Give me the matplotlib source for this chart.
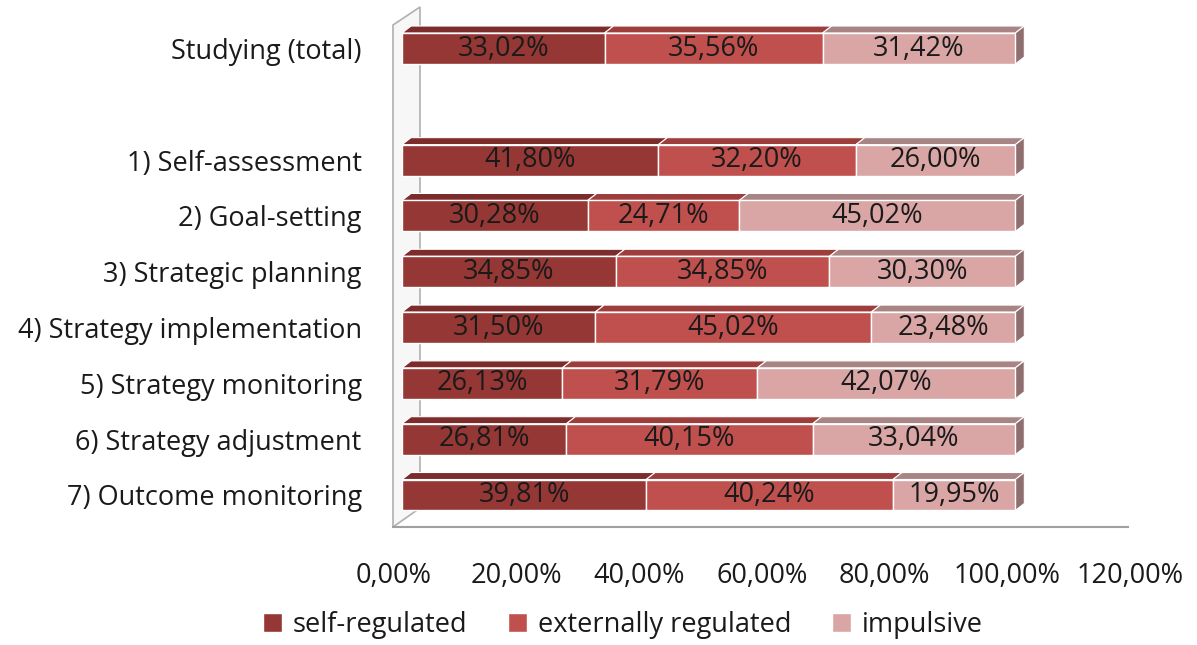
import numpy as np
import matplotlib.pyplot as plt
from matplotlib.patches import Polygon, Rectangle
from matplotlib.lines import Line2D
import matplotlib.transforms as mtransforms

plt.rcParams['font.family'] = ['Open Sans', 'DejaVu Sans']

categories = ["7) Outcome monitoring", "6) Strategy adjustment", "5) Strategy monitoring",
              "4) Strategy implementation", "3) Strategic planning", "2) Goal-setting",
              "1) Self-assessment", "", "Studying (total)"]
self_reg = [39.81, 26.81, 26.13, 31.50, 34.85, 30.28, 41.80, None, 33.02]
ext_reg = [40.24, 40.15, 31.79, 45.02, 34.85, 24.71, 32.20, None, 35.56]
impulsive = [19.95, 33.04, 42.07, 23.48, 30.30, 45.02, 26.00, None, 31.42]
series_names = ["self-regulated", "externally regulated", "impulsive"]
xticks = [0, 20, 40, 60, 80, 100, 120]

front = ["#953735", "#C0504D", "#D9A6A5"]
top = ["#7B2C2B", "#9E3E3C", "#A88584"]
side = "#8E6E6E"

W, H = 1197, 645
fig = plt.figure(figsize=(W / 100, H / 100), dpi=100)

def fx(x):
    return x / W

def fy(y):
    return 1 - y / H

# axes: 0% at x=402, 120% at x=1138; y from px 10 to 520
ax = fig.add_axes([fx(402), fy(520), (1138 - 402) / W, 510 / H])
ax.set_xlim(0, 120)
ax.set_ylim(-0.448, 8.69)
for s in ax.spines.values():
    s.set_visible(False)
ax.patch.set_visible(False)

# left wall and floor (3D look)
wall = Polygon([(fx(393), fy(25)), (fx(420), fy(7)), (fx(420), fy(508)), (fx(393), fy(527))],
               closed=True, transform=fig.transFigure, facecolor="#F7F7F7",
               edgecolor="#B0B0B0", lw=1.2, zorder=0)
fig.add_artist(wall)
fig.add_artist(Line2D([fx(393), fx(1128)], [fy(527), fy(527)], transform=fig.transFigure,
                      color="#A0A0A0", lw=1.5))

bh = 0.555
dx = 9 / ((1138 - 402) / 120)
dy = 7 / 55.8

for i, cat in enumerate(categories):
    if self_reg[i] is None:
        continue
    vals = [self_reg[i], ext_reg[i], impulsive[i]]
    left = 0
    for k, v in enumerate(vals):
        y0, y1 = i - bh / 2, i + bh / 2
        ax.add_patch(Rectangle((left, y0), v, bh, facecolor=front[k],
                               edgecolor="white", lw=1.0, zorder=3))
        ax.add_patch(Polygon([(left, y1), (left + v, y1), (left + v + dx, y1 + dy),
                              (left + dx, y1 + dy)], closed=True, facecolor=top[k],
                             edgecolor="white", lw=0.8, zorder=2))
        ax.text(left + v / 2, i, f"{v:.2f}%".replace(".", ","), ha="center", va="center",
                fontsize=19.5, color="#1A1A1A", zorder=5)
        left += v
    ax.add_patch(Polygon([(left, y0), (left, y1), (left + dx, y1 + dy), (left + dx, y0 + dy)],
                         closed=True, facecolor=side, edgecolor="white", lw=0.8, zorder=2))

ax.set_yticks(range(len(categories)))
ax.set_yticklabels(categories, fontsize=19.5, color="#1A1A1A")
ax.tick_params(axis="y", length=0, pad=29)

ax.set_xticks(xticks)
ax.set_xticklabels([f"{t:.2f}%".replace(".", ",") for t in xticks], fontsize=19.5, color="#1A1A1A")
ax.tick_params(axis="x", length=0, pad=30)
shift = mtransforms.ScaledTranslation(-8 / 100, 0, fig.dpi_scale_trans)
for lab in ax.get_xticklabels():
    lab.set_transform(lab.get_transform() + shift)

handles = [Rectangle((0, 0), 1, 1, facecolor=c, edgecolor="white") for c in front]
fig.legend(handles, series_names, loc="center", bbox_to_anchor=(fx(623), fy(625)), ncol=3,
           frameon=False, fontsize=19.5, handlelength=0.7, handleheight=0.7,
           handletextpad=0.4, columnspacing=1.5, labelcolor="#1A1A1A")

fig.savefig("out.png", dpi=100)
